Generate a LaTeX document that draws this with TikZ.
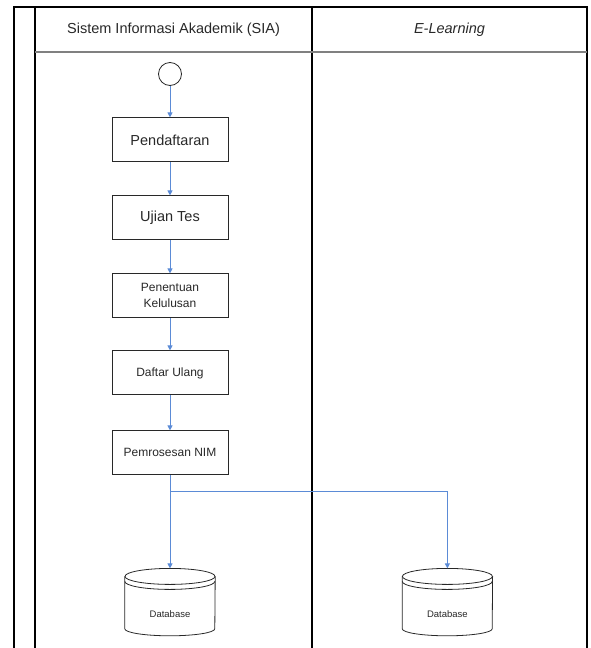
\documentclass[tikz,border=0pt]{standalone}
\usepackage{fontspec}
\setmainfont{Liberation Sans}
\usetikzlibrary{arrows.meta,positioning,calc}
\definecolor{ink}{RGB}{40,40,40}
\definecolor{flowblue}{RGB}{91,139,214}
\definecolor{rule}{RGB}{128,128,128}
\tikzset{
  flow/.style={-{Triangle[length=5pt,width=5pt]},line width=1pt,draw=flowblue},
  lane/.style={line width=1.4pt,draw=black},
  lanehead/.style={font=\fontsize{14.5}{16}\selectfont,text=ink},
  stepbox/.style={draw=ink,line width=1pt,minimum width=116pt,minimum height=44pt,
                  align=center,text=ink,font=\fontsize{14.5}{16}\selectfont},
  smallbox/.style={stepbox,font=\fontsize{12}{14}\selectfont},
  startnode/.style={circle,draw=ink,line width=0.8pt,minimum size=23pt,inner sep=0pt},
  dbase/.style={minimum width=90pt,minimum height=67pt,inner sep=0pt,text=ink,
                text height=30pt,text depth=0pt,font=\fontsize{9.5}{11}\selectfont},
  dbline/.style={draw=ink,line width=0.8pt}
}

\begin{document}
\begin{tikzpicture}[x=1pt,y=1pt,node distance=33pt]
  \useasboundingbox (0,0) rectangle (590,-648);
  % swimlanes
  \draw[lane] (14,-648) -- (14,-7) -- (587,-7) -- (587,-648);
  \draw[lane] (35,-7) -- (35,-648);
  \draw[lane] (312,-7) -- (312,-648);
  \draw[line width=1.6pt,draw=rule] (35,-52) -- (587,-52);
  \node[lanehead] (sia) at (173.5,-30) {Sistem Informasi Akademik (SIA)};
  \node[lanehead] (elearn) at (449.5,-30) {\itshape E-Learning};
  % flow
  \node[startnode] (start) at (170,-74) {};
  \node[stepbox,below=31.5pt of start] (daftar) {Pendaftaran};
  \node[stepbox,below=of daftar] (ujian) {Ujian Tes};
  \node[smallbox,below=of ujian] (lulus) {Penentuan\\[2pt]Kelulusan};
  \node[smallbox,below=32pt of lulus] (ulang) {Daftar Ulang};
  \node[smallbox,below=35pt of ulang] (nim) {Pemrosesan NIM};
  \node[dbase,below=93pt of nim] (dbsia) {Database};
  \node[dbase,right=187pt of dbsia] (dbel) {Database};
  \coordinate[below=16pt of nim] (split);
  \foreach \db in {dbsia,dbel}{
    \draw[dbline] ($(\db.north west)+(0,-8pt)$) -- ($(\db.south west)+(0,7pt)$)
      arc[start angle=180,end angle=360,x radius=45pt,y radius=7pt]
      -- ($(\db.north east)+(0,-8pt)$);
    \draw[dbline] ($(\db.north)+(0,-8pt)$) ellipse[x radius=45pt,y radius=8pt];
    \draw[dbline] ($(\db.north west)+(0,-13pt)$)
      arc[start angle=180,end angle=360,x radius=45pt,y radius=8pt];
  }
  \draw[flow] (start) -- (daftar);
  \draw[flow] (daftar) -- (ujian);
  \draw[flow] (ujian) -- (lulus);
  \draw[flow] (lulus) -- (ulang);
  \draw[flow] (ulang) -- (nim);
  \draw[flow] (nim) -- (dbsia);
  \draw[flow] (split) -| (dbel.north);
\end{tikzpicture}
\end{document}
